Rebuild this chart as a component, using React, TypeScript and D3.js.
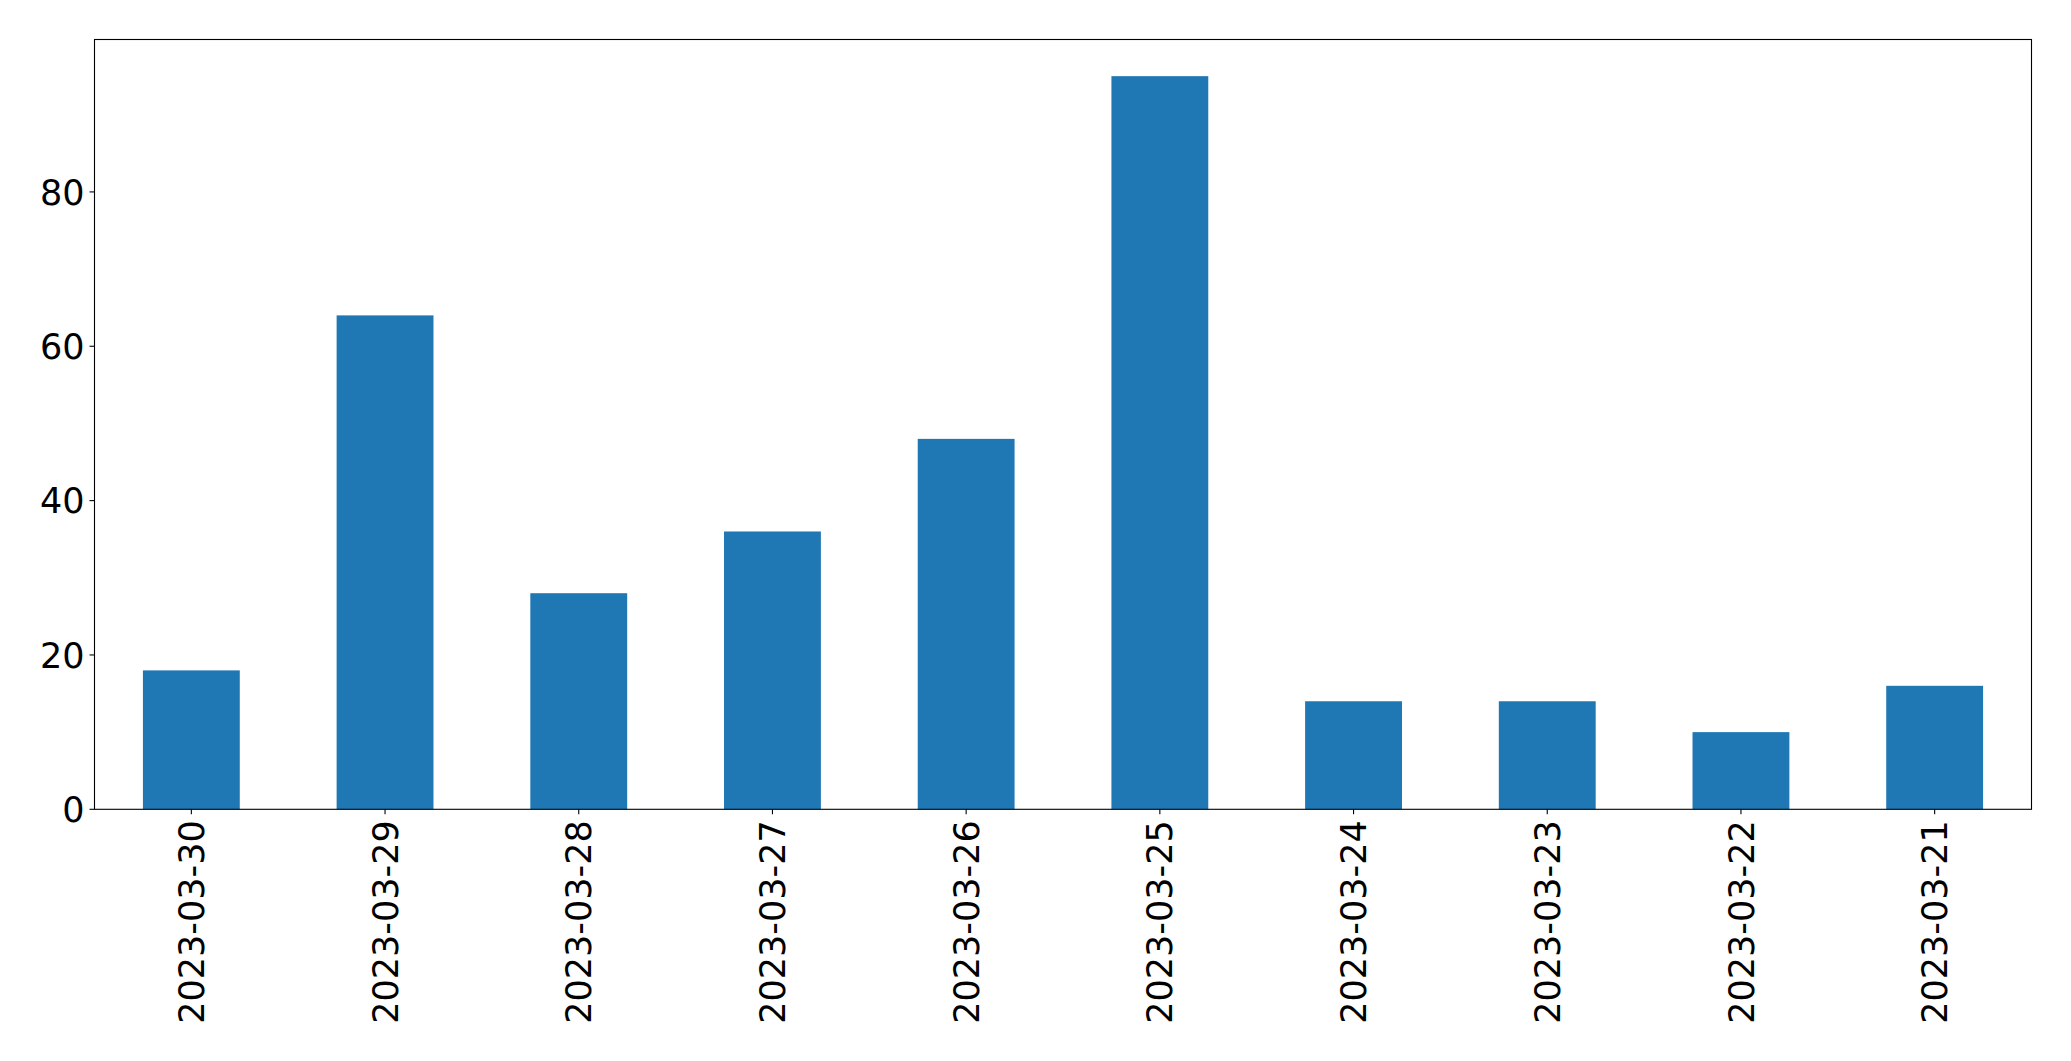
import React from 'react'
import * as d3 from 'd3'

const dates = [
  '2023-03-30', '2023-03-29', '2023-03-28', '2023-03-27', '2023-03-26',
  '2023-03-25', '2023-03-24', '2023-03-23', '2023-03-22', '2023-03-21',
]
const counts = [18, 64, 28, 36, 48, 95, 14, 14, 10, 16]
const yTicks = [0, 20, 40, 60, 80]

export default function App() {
  const width = 2071
  const height = 1061
  const left = 94.5
  const right = 2031.5
  const top = 39.5
  const bottom = 809.3
  const fontSize = 35

  const x = d3.scaleBand<string>()
    .domain(dates)
    .range([left, right])
    .paddingInner(0.5)
    .paddingOuter(0.25)

  const yMax = (d3.max(counts) ?? 0) * 1.05
  const y = d3.scaleLinear().domain([0, yMax]).range([bottom, top])

  return (
    <svg
      width={width}
      height={height}
      style={{position: 'absolute', left: 0, top: 0, background: 'white'}}
      fontFamily="DejaVu Sans"
    >
      {/* bars */}
      {dates.map((d, i) => (
        <rect
          key={d}
          x={x(d)}
          y={y(counts[i])}
          width={x.bandwidth()}
          height={y(0) - y(counts[i])}
          fill="#1f77b4"
        />
      ))}

      {/* frame */}
      <rect x={left} y={top} width={right - left} height={bottom - top}
        fill="none" stroke="black" strokeWidth={1.1} />

      {/* y axis */}
      {yTicks.map(t => (
        <g key={t}>
          <line x1={left - 5} x2={left} y1={y(t)} y2={y(t)} stroke="black" strokeWidth={1.1} />
          <text x={left - 10} y={y(t)} dy="0.36em" textAnchor="end" fontSize={fontSize}>{t}</text>
        </g>
      ))}

      {/* x axis */}
      {dates.map(d => {
        const cx = (x(d) ?? 0) + x.bandwidth() / 2
        return (
          <g key={d}>
            <line x1={cx} x2={cx} y1={bottom} y2={bottom + 5} stroke="black" strokeWidth={1.1} />
            <text
              transform={`translate(${cx}, ${bottom + 11}) rotate(-90)`}
              textAnchor="end"
              dy="0.36em"
              fontSize={fontSize}
            >{d}</text>
          </g>
        )
      })}
    </svg>
  )
}
